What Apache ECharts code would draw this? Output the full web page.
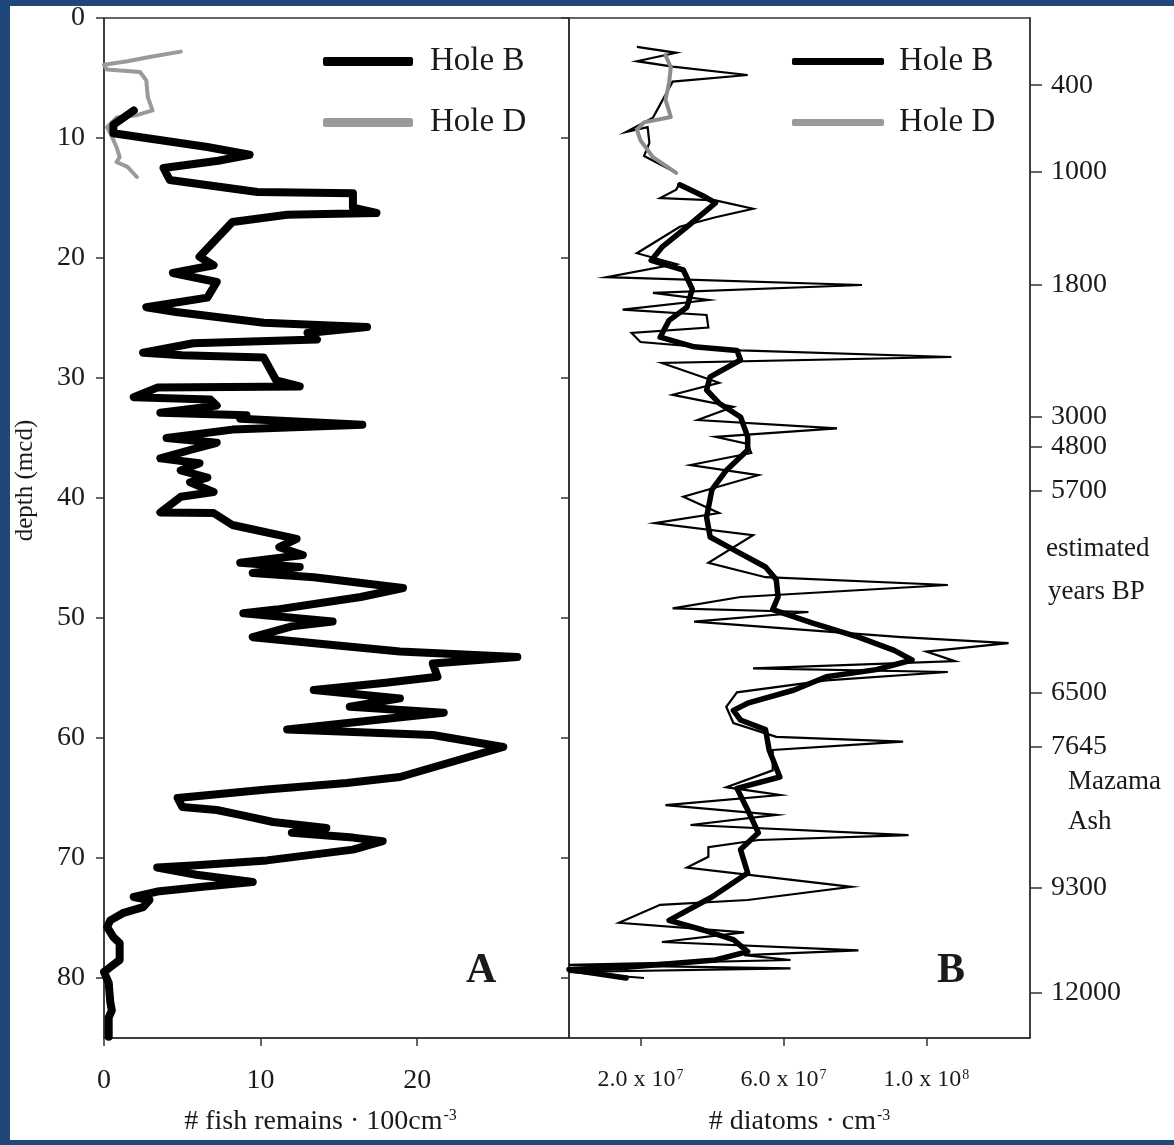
<!DOCTYPE html>
<html>
<head>
<meta charset="utf-8">
<script src="https://cdn.jsdelivr.net/npm/echarts@6/dist/echarts.min.js"></script>
<style>
  html, body { margin:0; padding:0; background:#1f477a; width:1174px; height:1145px; overflow:hidden; }
  #paper { position:absolute; left:10px; top:6px; width:1164px; height:1134px; background:#ffffff; }
  #chart { position:absolute; left:0; top:0; width:1174px; height:1145px; }
</style>
</head>
<body>
<div id="paper"></div>
<div id="chart"></div>
<script>
// ---------- data: [depth (mcd), value] ----------
// Panel A: fish remains per 100 cm^-3
const fishHoleB = [[7.7,1.9],[8.9,0.6],[9.6,0.6],[10.75,6.6],[11.4,9.3],[11.9,7.3],[12.5,3.8],[13.5,4.2],[14.5,9.8],[14.6,15.9],[15.8,15.9],[16.25,17.4],[16.4,11.7],[17.0,8.2],[19.9,6.1],[20.6,7.0],[21.25,4.4],[22.0,7.2],[23.3,6.6],[24.1,2.7],[24.5,4.6],[25.4,10.2],[25.75,16.8],[26.25,13.0],[26.8,13.6],[27.1,5.7],[27.9,2.5],[28.1,5.0],[28.3,10.2],[30.2,11.0],[30.7,12.5],[30.8,3.4],[31.6,1.9],[31.8,6.8],[32.3,7.2],[32.9,3.6],[33.1,9.1],[33.4,8.7],[33.9,16.5],[34.3,8.2],[35.0,4.0],[35.4,7.2],[36.0,5.5],[36.7,3.6],[37.1,6.1],[37.7,4.9],[38.3,6.6],[38.7,5.5],[39.5,7.0],[39.9,4.9],[41.2,3.6],[41.25,7.0],[42.25,8.2],[43.4,12.3],[44.1,11.2],[44.75,12.7],[45.4,8.7],[45.75,12.5],[46.25,9.5],[46.6,13.4],[47.5,19.1],[48.25,16.4],[49.3,11.0],[49.6,8.9],[50.3,14.6],[50.7,12.0],[51.6,9.5],[52.25,14.6],[52.8,18.9],[53.25,26.4],[53.8,21.0],[54.9,21.3],[55.4,18.0],[56.0,13.4],[56.7,18.9],[57.4,15.7],[57.9,21.7],[58.2,19.4],[59.3,11.7],[59.75,21.0],[60.75,25.5],[63.25,18.9],[63.75,15.5],[64.3,10.4],[65.0,4.7],[65.75,5.0],[66.0,7.2],[66.4,8.7],[67.0,10.8],[67.5,14.2],[67.9,12.0],[68.3,15.9],[68.6,17.8],[69.3,15.9],[70.2,10.4],[70.6,5.9],[70.8,3.4],[71.4,5.9],[72.0,9.5],[72.4,6.3],[72.8,3.4],[73.25,1.9],[73.5,2.9],[74.1,2.5],[74.6,1.2],[75.2,0.4],[75.75,0.2],[76.6,0.6],[77.1,1.0],[78.5,1.0],[79.1,0.4],[79.5,0.0],[80.4,0.3],[82.0,0.4],[82.7,0.5],[83.3,0.3],[84.9,0.3]];
const fishHoleD = [[2.8,4.9],[3.25,2.9],[3.6,1.5],[3.9,0.0],[4.3,0.2],[4.5,2.3],[5.2,2.7],[6.6,2.8],[7.7,3.1],[8.1,2.1],[8.3,0.8],[9.1,0.2],[9.6,0.4],[10.75,0.8],[11.6,1.0],[12.0,0.8],[12.4,1.5],[13.25,2.1]];

// Panel B: diatoms per cm^-3, in units of 10^7
const diatomHoleBSmooth = [[13.9,3.1],[14.9,3.8],[15.4,4.1],[17.4,3.3],[19.1,2.6],[20.2,2.3],[21.0,3.2],[22.6,3.45],[24.1,3.3],[25.2,2.8],[26.6,2.55],[27.4,3.5],[27.7,4.7],[28.5,4.8],[29.9,3.95],[31.0,3.85],[32.1,4.2],[33.25,4.8],[34.9,5.0],[36.0,5.0],[37.7,4.4],[39.3,4.0],[41.6,3.85],[43.25,3.95],[44.3,4.6],[45.75,5.5],[46.8,5.8],[48.25,5.85],[49.3,5.7],[50.4,6.8],[51.6,8.1],[52.7,9.1],[53.5,9.6],[54.3,8.6],[54.9,7.2],[56.0,6.3],[57.1,5.0],[57.7,4.6],[58.5,4.8],[59.3,5.5],[61.0,5.6],[63.25,5.9],[64.2,4.7],[66.0,5.0],[67.9,5.3],[69.3,4.8],[71.25,5.0],[73.25,4.0],[75.2,2.8],[76.0,3.75],[76.8,4.6],[77.8,5.0],[78.5,4.1],[79.1,1.6],[79.3,0.0],[80.0,1.6]];
const diatomHoleBRaw = [[13.75,3.1],[14.3,3.0],[15.0,2.55],[15.2,4.1],[15.9,5.15],[16.6,4.1],[17.4,3.1],[19.6,1.9],[20.5,3.0],[21.6,1.05],[22.25,8.2],[22.9,2.35],[23.5,3.9],[24.3,1.5],[24.75,3.85],[25.8,3.9],[26.25,1.75],[27.0,2.0],[27.7,4.8],[28.25,10.7],[28.75,2.6],[30.4,4.2],[31.4,2.9],[32.4,4.6],[33.5,3.6],[34.2,7.5],[34.9,4.1],[35.5,5.0],[36.25,5.1],[37.25,3.4],[38.1,5.3],[39.9,3.2],[41.25,4.2],[42.1,2.4],[43.1,5.15],[45.4,3.9],[46.6,5.5],[47.25,10.6],[48.25,4.8],[49.2,2.9],[49.5,6.7],[50.3,3.5],[51.6,9.3],[52.1,12.3],[52.8,10.0],[53.6,10.8],[54.2,5.15],[54.5,10.6],[55.2,7.2],[56.2,4.7],[57.4,4.4],[58.75,4.6],[59.9,5.8],[60.3,9.35],[61.0,5.7],[62.7,5.7],[64.1,4.4],[64.75,5.9],[65.6,2.7],[66.4,5.8],[67.25,3.4],[68.1,9.5],[68.5,5.3],[69.1,3.9],[69.9,3.9],[70.8,3.3],[72.4,7.9],[73.5,5.0],[73.9,2.55],[75.4,1.4],[76.2,4.9],[77.0,2.6],[77.7,8.1],[78.1,4.9],[78.5,6.2],[78.9,0.0],[79.2,6.2],[79.5,0.0],[80.0,2.1]];
const diatomHoleDSmooth = [[3.1,2.7],[4.1,2.85],[5.4,2.8],[6.8,2.7],[8.25,2.85],[8.7,2.1],[9.3,1.9],[10.2,2.0],[11.6,2.35],[12.9,3.0]];
const diatomHoleDRaw = [[2.4,1.9],[2.9,3.0],[3.6,1.9],[4.05,2.9],[4.75,5.0],[5.3,2.9],[8.3,2.35],[9.5,1.6],[9.1,2.2],[10.4,2.25],[11.5,2.1],[12.9,3.0]];

// Axis ticks / labels
const depthTicks = [0,10,20,30,40,50,60,70,80];
const fishTicks = [0,10,20];
const diatomTicks = [2,6,10];               // x 10^7
const diatomTickLabels = ['2.0 x 10{sup|7}','6.0 x 10{sup|7}','1.0 x 10{sup|8}'];
const yearDepths = [5.6,12.8,22.25,33.2,35.75,39.4,56.2,60.75,72.5,81.25];
const yearLabels = ['400','1000','1800','3000','4800','5700','6500','7645','9300','12000'];

// ---------- chart ----------
const FONT = "'Liberation Serif','Times New Roman',serif";
const INK = '#1a1a1a';
const AX = '#333333';
const toXY = arr => arr.map(p => [p[1], p[0]]);

const chart = echarts.init(document.getElementById('chart'), null, {renderer:'canvas'});

const axisLineStyle = {show:true, onZero:false, lineStyle:{color:AX, width:1.5}};
const tickStyle = {show:true, inside:false, length:8, lineStyle:{color:AX, width:1.5}};
const supRich = {sup:{fontSize:16, fontFamily:FONT, color:INK, verticalAlign:'top', lineHeight:14, padding:[0,0,12,1]}};
const supRichSmall = {sup:{fontSize:14, fontFamily:FONT, color:INK, verticalAlign:'top', lineHeight:12, padding:[0,0,10,1]}};

const option = {
  backgroundColor:'transparent',
  animation:false,
  grid:[
    {left:104, top:18, width:465, height:1020, show:true, borderColor:AX, borderWidth:1.5, containLabel:false},
    {left:569, top:18, width:461, height:1020, show:true, borderColor:AX, borderWidth:1.5, containLabel:false}
  ],
  legend:[
    {left:318, top:40, orient:'vertical', itemWidth:90, itemHeight:9, itemGap:28, icon:'roundRect',
     itemStyle:{borderWidth:0}, data:['Hole B','Hole D'],
     textStyle:{fontFamily:FONT, fontSize:33, color:INK, padding:[0,0,0,12], lineHeight:32}},
    {left:787, top:40, orient:'vertical', itemWidth:92, itemHeight:7, itemGap:28, icon:'roundRect',
     itemStyle:{borderWidth:0}, data:['Hole B','Hole D'],
     textStyle:{fontFamily:FONT, fontSize:33, color:INK, padding:[0,0,0,10], lineHeight:32}}
  ],
  xAxis:[
    {gridIndex:0, type:'value', min:0, max:29.7, position:'bottom',
     axisLine:axisLineStyle, axisTick:Object.assign({customValues:fishTicks}, tickStyle), splitLine:{show:false},
     axisLabel:{customValues:fishTicks, fontFamily:FONT, fontSize:28, color:INK, margin:29},
     name:'# fish remains · 100cm{sup|-3}', nameLocation:'middle', nameGap:70,
     nameTextStyle:{fontFamily:FONT, fontSize:28, color:INK, padding:[0,32,0,0], rich:supRich}},
    {gridIndex:1, type:'value', min:0, max:12.9, position:'bottom',
     axisLine:axisLineStyle, axisTick:Object.assign({customValues:diatomTicks}, tickStyle), splitLine:{show:false},
     axisLabel:{customValues:diatomTicks, fontFamily:FONT, fontSize:24, color:INK, margin:30,
       formatter:v => diatomTickLabels[diatomTicks.indexOf(v)], rich:supRichSmall},
     name:'# diatoms · cm{sup|-3}', nameLocation:'middle', nameGap:70,
     nameTextStyle:{fontFamily:FONT, fontSize:28, color:INK, padding:[0,0,0,0], rich:supRich}}
  ],
  yAxis:[
    {gridIndex:0, type:'value', inverse:true, min:0, max:85, position:'left',
     axisLine:axisLineStyle, axisTick:Object.assign({customValues:depthTicks}, tickStyle), splitLine:{show:false},
     axisLabel:{customValues:depthTicks, fontFamily:FONT, fontSize:28, color:INK, margin:19},
     name:'depth (mcd)', nameLocation:'middle', nameGap:66, nameRotate:90,
     nameTextStyle:{fontFamily:FONT, fontSize:25, color:INK, padding:[0,0,0,95]}},
    {gridIndex:1, type:'value', inverse:true, min:0, max:85, position:'left',
     axisLine:axisLineStyle, axisTick:Object.assign({customValues:depthTicks}, tickStyle), splitLine:{show:false},
     axisLabel:{show:false}},
    {gridIndex:1, type:'value', inverse:true, min:0, max:85, position:'right',
     axisLine:axisLineStyle, axisTick:{show:true, inside:false, length:12, customValues:yearDepths, lineStyle:{color:AX, width:1.5}},
     splitLine:{show:false},
     axisLabel:{customValues:yearDepths, fontFamily:FONT, fontSize:28, color:INK, margin:21,
       formatter:v => yearLabels[yearDepths.indexOf(v)]}}
  ],
  graphic:[
    {type:'text', left:1046, top:535, style:{text:'estimated', fontFamily:FONT, fontSize:27, fill:INK}},
    {type:'text', left:1048, top:578, style:{text:'years BP', fontFamily:FONT, fontSize:27, fill:INK}},
    {type:'text', left:1068, top:768, style:{text:'Mazama', fontFamily:FONT, fontSize:27, fill:INK}},
    {type:'text', left:1068, top:808, style:{text:'Ash', fontFamily:FONT, fontSize:27, fill:INK}},
    {type:'text', left:466, top:950, style:{text:'A', fontFamily:FONT, fontSize:42, fontWeight:'bold', fill:INK}},
    {type:'text', left:937, top:950, style:{text:'B', fontFamily:FONT, fontSize:42, fontWeight:'bold', fill:INK}}
  ],
  series:[
    {name:'Hole D', type:'line', xAxisIndex:0, yAxisIndex:0, data:toXY(fishHoleD), showSymbol:false, symbol:'none',
     color:'#9a9a9a', lineStyle:{color:'#9a9a9a', width:4, join:'round', cap:'round'}, silent:true, z:2},
    {name:'Hole B', type:'line', xAxisIndex:0, yAxisIndex:0, data:toXY(fishHoleB), showSymbol:false, symbol:'none',
     color:'#000000', lineStyle:{color:'#000000', width:8, join:'round', cap:'round'}, silent:true, z:3},
    {name:'Hole B raw', type:'line', xAxisIndex:1, yAxisIndex:1, data:toXY(diatomHoleBRaw), showSymbol:false, symbol:'none',
     color:'#000000', lineStyle:{color:'#000000', width:2.2, join:'miter'}, silent:true, z:2},
    {name:'Hole D raw', type:'line', xAxisIndex:1, yAxisIndex:1, data:toXY(diatomHoleDRaw), showSymbol:false, symbol:'none',
     color:'#000000', lineStyle:{color:'#000000', width:2.2, join:'miter'}, silent:true, z:2},
    {name:'Hole B', type:'line', xAxisIndex:1, yAxisIndex:1, data:toXY(diatomHoleBSmooth), showSymbol:false, symbol:'none',
     color:'#000000', lineStyle:{color:'#000000', width:5.5, join:'round', cap:'round'}, silent:true, z:3},
    {name:'Hole D', type:'line', xAxisIndex:1, yAxisIndex:1, data:toXY(diatomHoleDSmooth), showSymbol:false, symbol:'none',
     color:'#8c8c8c', lineStyle:{color:'#8c8c8c', width:4, join:'round', cap:'round'}, silent:true, z:4}
  ]
};
chart.setOption(option);
</script>
</body>
</html>
